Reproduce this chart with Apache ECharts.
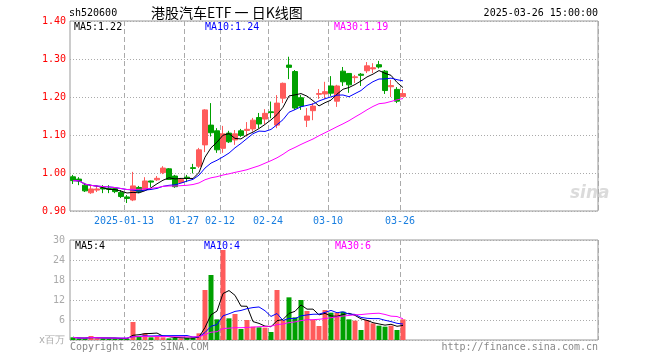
<!DOCTYPE html>
<html><head><meta charset="utf-8">
<script src="https://cdn.jsdelivr.net/npm/echarts@6/dist/echarts.min.js"></script>
<style>html,body{margin:0;padding:0;background:#fff}#c{width:660px;height:360px}</style>
</head><body><div id="c"></div>
<script>
// ---- data ----
var dates = ['2024-12-30','2024-12-31','2025-01-02','2025-01-03','2025-01-06','2025-01-07','2025-01-08','2025-01-09','2025-01-10','2025-01-13',
 '2025-01-14','2025-01-15','2025-01-16','2025-01-17','2025-01-20','2025-01-21','2025-01-22','2025-01-23','2025-01-24','2025-01-27',
 '2025-02-05','2025-02-06','2025-02-07','2025-02-10','2025-02-11','2025-02-12','2025-02-13','2025-02-14','2025-02-17','2025-02-18',
 '2025-02-19','2025-02-20','2025-02-21','2025-02-24','2025-02-25','2025-02-26','2025-02-27','2025-02-28','2025-03-03','2025-03-04',
 '2025-03-05','2025-03-06','2025-03-07','2025-03-10','2025-03-11','2025-03-12','2025-03-13','2025-03-14','2025-03-17','2025-03-18',
 '2025-03-19','2025-03-20','2025-03-21','2025-03-24','2025-03-25','2025-03-26'];
var openP  = [0.990,0.984,0.968,0.948,0.955,0.961,0.959,0.959,0.949,0.937,0.929,0.962,0.957,0.979,0.982,1.001,1.011,0.992,0.975,0.989,
 1.014,1.018,1.074,1.126,1.111,1.065,1.105,1.087,1.111,1.112,1.116,1.146,1.142,1.161,1.126,1.197,1.284,1.267,1.198,1.139,
 1.164,1.207,1.208,1.229,1.189,1.268,1.262,1.251,1.260,1.269,1.274,1.285,1.268,1.227,1.220,1.201];
var closeP = [0.980,0.979,0.953,0.958,0.958,0.958,0.957,0.951,0.938,0.933,0.966,0.951,0.979,0.976,0.986,1.013,0.983,0.964,0.983,0.986,
 1.012,1.061,1.166,1.106,1.061,1.103,1.082,1.103,1.099,1.115,1.139,1.129,1.157,1.159,1.184,1.236,1.278,1.171,1.176,1.150,
 1.176,1.209,1.214,1.210,1.229,1.240,1.232,1.253,1.257,1.282,1.277,1.279,1.217,1.230,1.189,1.209];
var highP  = [0.995,0.989,0.974,0.966,0.966,0.968,0.968,0.963,0.955,0.942,1.003,0.966,0.989,0.980,0.992,1.018,1.013,0.995,0.987,0.995,
 1.024,1.066,1.168,1.184,1.118,1.124,1.111,1.113,1.116,1.134,1.145,1.158,1.168,1.188,1.205,1.238,1.306,1.271,1.205,1.171,
 1.184,1.221,1.240,1.255,1.232,1.279,1.263,1.258,1.263,1.292,1.289,1.295,1.271,1.245,1.226,1.221];
var lowP   = [0.971,0.968,0.950,0.945,0.950,0.947,0.947,0.947,0.934,0.921,0.926,0.947,0.954,0.963,0.979,0.997,0.982,0.961,0.974,0.976,
 0.999,1.013,1.055,1.096,1.053,1.053,1.079,1.074,1.095,1.096,1.109,1.118,1.129,1.144,1.118,1.184,1.247,1.166,1.166,1.121,
 1.139,1.195,1.195,1.203,1.174,1.229,1.211,1.237,1.229,1.263,1.263,1.275,1.208,1.200,1.184,1.200];
var volume = [0.8,0.4,0.5,1.2,0.5,0.4,0.4,0.4,0.5,0.4,5.4,1.2,2.0,0.8,1.0,0.8,0.5,0.6,0.5,0.6,
 0.7,2.0,15.0,19.5,6.2,27.0,6.5,7.8,3.3,6.0,4.0,3.8,3.7,2.4,15.0,6.0,12.8,6.8,12.0,8.7,
 6.0,4.2,9.0,8.2,8.2,8.5,6.2,5.8,3.0,6.0,5.0,4.3,4.0,4.3,3.0,6.2];
var tickDates  = ['2025-01-13','2025-01-27','2025-02-12','2025-02-24','2025-03-10','2025-03-26'];
var tickLabels = ['2025-01-13','01-27','02-12','02-24','03-10','03-26'];
var priceTicks = {min:0.9, max:1.4, step:0.1};
var volTicks = {min:0, max:30, step:6, unit:'x百万'};
var maPeriods = [5,10,30];
var maLabels = ['MA5:1.22','MA10:1.24','MA30:1.19'];
var volMaLabels = ['MA5:4','MA10:4','MA30:6'];
var headerCode = 'sh520600';
var headerTitle = '港股汽车ETF 一 日K线图';
var headerTime = '2025-03-26 15:00:00';
var footerLeft = 'Copyright 2025 SINA.COM';
var footerRight = 'http://finance.sina.com.cn';
var totalSlots = 88;

// ---- build ----
var RED='#ff5b5b', GREEN='#00a000';
var maColors = ['#000000','#0000ff','#ff00ff'];
var MONO = '"DejaVu Sans Mono", monospace';
function ma(arr,n){return arr.map(function(_,i){var s=Math.max(0,i-n+1),t=0;for(var j=s;j<=i;j++)t+=arr[j];return t/(i-s+1);});}
var cats = dates.slice(); while(cats.length<totalSlots) cats.push('pad'+cats.length);
var kData = dates.map(function(_,i){return [openP[i],closeP[i],lowP[i],highP[i]];});
var volData = volume.map(function(v,i){return {value:v,itemStyle:{color: closeP[i]>=openP[i]?RED:GREEN}};});
var isTick = function(i,v){return tickDates.indexOf(v)>=0;};
var gridLineV = {show:true, interval:isTick, lineStyle:{color:'#aaa',type:[5,3],width:1}};
var series = [
 {type:'candlestick', xAxisIndex:0, yAxisIndex:0, data:kData, barWidth:5,
  itemStyle:{color:RED,color0:GREEN,borderColor:RED,borderColor0:GREEN,borderWidth:1}},
 {type:'bar', xAxisIndex:1, yAxisIndex:1, data:volData, barWidth:5}
];
maPeriods.forEach(function(n,k){
 series.push({type:'line', xAxisIndex:0, yAxisIndex:0, data:ma(closeP,n), showSymbol:false, symbol:'none',
   lineStyle:{color:maColors[k],width:1}, z:3});
});
maPeriods.forEach(function(n,k){
 series.push({type:'line', xAxisIndex:1, yAxisIndex:1, data:ma(volume,n), showSymbol:false, symbol:'none',
   lineStyle:{color:maColors[k],width:1}, z:3});
});
function txt(x,y,t,fill,font,align){return {type:'text',z:100,style:{x:x,y:y,text:t,fill:fill,font:font,align:align||'left',verticalAlign:'middle'}};}
var maX=[74,205,334], vmaX=[75,204,335];
var graphics = [
 txt(69,13,headerCode,'#000','10px '+MONO),
 txt(151,13,headerTitle,'#000','14px "Noto Sans CJK SC", sans-serif'),
 txt(598,13,headerTime,'#000','10px '+MONO,'right'),
 txt(70,347,footerLeft,'#888','10px '+MONO),
 txt(598,347,footerRight,'#888','10px '+MONO,'right'),
 txt(570,194,'sina','rgba(190,190,190,0.55)','italic bold 17px "DejaVu Sans", sans-serif')
];
maLabels.forEach(function(t,k){graphics.push(txt(maX[k],27,t,maColors[k],'10px '+MONO));});
volMaLabels.forEach(function(t,k){graphics.push(txt(vmaX[k],246,t,maColors[k],'10px '+MONO));});

var chart = echarts.init(document.getElementById('c'),null,{renderer:'canvas'});
chart.setOption({
 animation:false,
 backgroundColor:'#fff',
 grid:[
  {left:70, top:21, width:528, height:190, show:true, borderColor:'#999', borderWidth:1, backgroundColor:'transparent'},
  {left:70, top:240, width:528, height:100, show:true, borderColor:'#999', borderWidth:1, backgroundColor:'transparent'}
 ],
 xAxis:[
  {type:'category', gridIndex:0, data:cats, boundaryGap:true, axisLine:{show:false}, axisTick:{show:false},
   axisLabel:{show:true, interval:isTick, color:'#1a7fe0', fontFamily:'DejaVu Sans Mono', fontSize:10, margin:5,
     padding:[0,6,0,0], formatter:function(v){var i=tickDates.indexOf(v);return i>=0?tickLabels[i]:'';}},
   splitLine:gridLineV},
  {type:'category', gridIndex:1, data:cats, boundaryGap:true, axisLine:{show:false}, axisTick:{show:false},
   axisLabel:{show:false}, splitLine:gridLineV}
 ],
 yAxis:[
  {type:'value', gridIndex:0, min:priceTicks.min, max:priceTicks.max, interval:priceTicks.step, scale:true,
   axisLine:{show:false}, axisTick:{show:false},
   axisLabel:{color:'#ff0000', fontFamily:'DejaVu Sans Mono', fontSize:10, margin:4, formatter:function(v){return v.toFixed(2);}},
   splitLine:{show:true, lineStyle:{color:'#aaa', type:[1,2], width:1}}},
  {type:'value', gridIndex:1, min:volTicks.min, max:volTicks.max, interval:volTicks.step,
   axisLine:{show:false}, axisTick:{show:false},
   axisLabel:{color:'#aaa', fontFamily:'DejaVu Sans Mono', fontSize:10, margin:5, formatter:function(v){return v===0?volTicks.unit:String(v);}},
   splitLine:{show:true, lineStyle:{color:'#aaa', type:[1,2], width:1}}}
 ],
 series:series,
 graphic:graphics
});
</script></body></html>
